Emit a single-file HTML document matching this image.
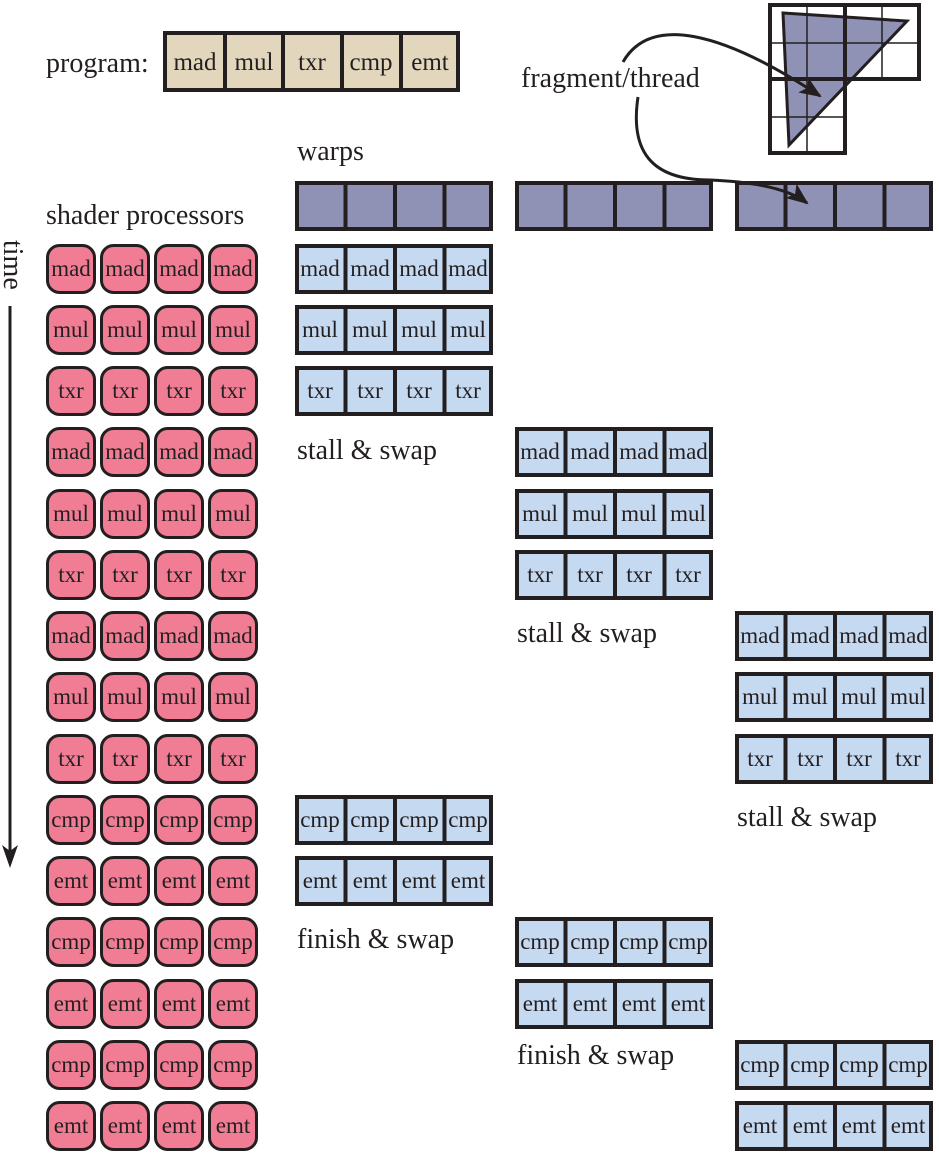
<!DOCTYPE html>
<html><head><meta charset="utf-8"><style>
html,body{margin:0;padding:0;background:#fff}
svg{display:block;font-family:"Liberation Serif","DejaVu Serif",serif}
svg text{font-family:"Liberation Serif","DejaVu Serif",serif;fill:#231f20}
.c{font-size:23px;text-anchor:middle}
.l{font-size:28px}
.p{fill:#f07d94;stroke:#231f20;stroke-width:3}
.b{fill:#c5d9f1;stroke:#231f20;stroke-width:4}
.w{fill:#8f91b5;stroke:#231f20;stroke-width:4}
.d{stroke:#231f20;stroke-width:4}
</style></head><body>
<svg width="939" height="1155" viewBox="0 0 939 1155" xmlns="http://www.w3.org/2000/svg" font-family="Liberation Serif, serif">
<defs>
<g id="pr"><rect class="p" x="47.5" y="1.5" width="47" height="47" rx="12"/><rect class="p" x="101.5" y="1.5" width="47" height="47" rx="12"/><rect class="p" x="155.5" y="1.5" width="47" height="47" rx="12"/><rect class="p" x="209.5" y="1.5" width="47" height="47" rx="12"/></g>
<g id="br"><rect class="b" x="2" y="2" width="194" height="46"/><line class="d" x1="50.5" y1="2" x2="50.5" y2="48"/><line class="d" x1="100" y1="2" x2="100" y2="48"/><line class="d" x1="149.5" y1="2" x2="149.5" y2="48"/></g>
<g id="wr"><rect class="w" x="2" y="2" width="194" height="46"/><line class="d" x1="50.5" y1="2" x2="50.5" y2="48"/><line class="d" x1="100" y1="2" x2="100" y2="48"/><line class="d" x1="149.5" y1="2" x2="149.5" y2="48"/></g>
<marker id="ah" markerWidth="22" markerHeight="18" refX="20" refY="9" orient="auto" markerUnits="userSpaceOnUse" viewBox="0 0 22 18"><path d="M0,0 L22,9 L0,18 L5,9 Z" fill="#231f20"/></marker>
</defs>

<text class="l" x="46" y="72">program:</text>
<rect x="165" y="33" width="293" height="57" fill="#e2d7bd" stroke="#231f20" stroke-width="4"/>
<line class="d" x1="225" y1="33" x2="225" y2="90"/><line class="d" x1="283" y1="33" x2="283" y2="90"/><line class="d" x1="342" y1="33" x2="342" y2="90"/><line class="d" x1="401" y1="33" x2="401" y2="90"/>
<g class="c" style="font-size:25px"><text x="195" y="70">mad</text><text x="254" y="70">mul</text><text x="312" y="70">txr</text><text x="371" y="70">cmp</text><text x="430" y="70">emt</text></g>

<rect x="770" y="5" width="149" height="74" fill="#fff"/><rect x="770" y="79" width="75" height="74" fill="#fff"/>
<polygon points="783,13 907,21 789,145" fill="#8f91b5" stroke="#231f20" stroke-width="3"/>
<g stroke="#231f20" stroke-width="1.5" fill="none">
<line x1="807" y1="5" x2="807" y2="153"/><line x1="882" y1="5" x2="882" y2="79"/>
<line x1="770" y1="43" x2="919" y2="43"/><line x1="770" y1="117" x2="845" y2="117"/>
</g>
<g stroke="#231f20" stroke-width="4" fill="none">
<path d="M770,5 H919 V79 H845 V153 H770 Z"/>
<line x1="845" y1="5" x2="845" y2="79"/><line x1="770" y1="79" x2="845" y2="79"/>
</g>
<text class="l" x="521" y="87">fragment/thread</text>
<path d="M623,62 C650,15 720,30 820,96" fill="none" stroke="#231f20" stroke-width="3" marker-end="url(#ah)"/>

<text class="l" x="297" y="160">warps</text>
<text class="l" x="46" y="224">shader processors</text>
<use href="#wr" x="295" y="181"/><use href="#wr" x="515" y="181"/><use href="#wr" x="735" y="181"/>
<path d="M638,97 C630,150 650,180 710,180 C760,182 790,190 807,203" fill="none" stroke="#231f20" stroke-width="3" marker-end="url(#ah)"/>

<text class="l" transform="translate(4,240) rotate(90)" x="0" y="0">time</text>
<line x1="10" y1="306" x2="10" y2="855" stroke="#231f20" stroke-width="3"/>
<path d="M2,845 L10,868 L18,845 L10,851 Z" fill="#231f20"/>

<g class="c">
<use href="#pr" y="244"/><text x="71" y="276">mad</text><text x="125" y="276">mad</text><text x="179" y="276">mad</text><text x="233" y="276">mad</text>
<use href="#pr" y="305"/><text x="71" y="337">mul</text><text x="125" y="337">mul</text><text x="179" y="337">mul</text><text x="233" y="337">mul</text>
<use href="#pr" y="366"/><text x="71" y="398">txr</text><text x="125" y="398">txr</text><text x="179" y="398">txr</text><text x="233" y="398">txr</text>
<use href="#pr" y="427"/><text x="71" y="459">mad</text><text x="125" y="459">mad</text><text x="179" y="459">mad</text><text x="233" y="459">mad</text>
<use href="#pr" y="489"/><text x="71" y="521">mul</text><text x="125" y="521">mul</text><text x="179" y="521">mul</text><text x="233" y="521">mul</text>
<use href="#pr" y="550"/><text x="71" y="582">txr</text><text x="125" y="582">txr</text><text x="179" y="582">txr</text><text x="233" y="582">txr</text>
<use href="#pr" y="611"/><text x="71" y="643">mad</text><text x="125" y="643">mad</text><text x="179" y="643">mad</text><text x="233" y="643">mad</text>
<use href="#pr" y="672"/><text x="71" y="704">mul</text><text x="125" y="704">mul</text><text x="179" y="704">mul</text><text x="233" y="704">mul</text>
<use href="#pr" y="734"/><text x="71" y="766">txr</text><text x="125" y="766">txr</text><text x="179" y="766">txr</text><text x="233" y="766">txr</text>
<use href="#pr" y="795"/><text x="71" y="827">cmp</text><text x="125" y="827">cmp</text><text x="179" y="827">cmp</text><text x="233" y="827">cmp</text>
<use href="#pr" y="856"/><text x="71" y="888">emt</text><text x="125" y="888">emt</text><text x="179" y="888">emt</text><text x="233" y="888">emt</text>
<use href="#pr" y="917"/><text x="71" y="949">cmp</text><text x="125" y="949">cmp</text><text x="179" y="949">cmp</text><text x="233" y="949">cmp</text>
<use href="#pr" y="979"/><text x="71" y="1011">emt</text><text x="125" y="1011">emt</text><text x="179" y="1011">emt</text><text x="233" y="1011">emt</text>
<use href="#pr" y="1040"/><text x="71" y="1072">cmp</text><text x="125" y="1072">cmp</text><text x="179" y="1072">cmp</text><text x="233" y="1072">cmp</text>
<use href="#pr" y="1101"/><text x="71" y="1133">emt</text><text x="125" y="1133">emt</text><text x="179" y="1133">emt</text><text x="233" y="1133">emt</text>

<use href="#br" x="295" y="244"/><text x="320" y="276">mad</text><text x="370" y="276">mad</text><text x="419" y="276">mad</text><text x="468" y="276">mad</text>
<use href="#br" x="295" y="305"/><text x="320" y="337">mul</text><text x="370" y="337">mul</text><text x="419" y="337">mul</text><text x="468" y="337">mul</text>
<use href="#br" x="295" y="366"/><text x="320" y="398">txr</text><text x="370" y="398">txr</text><text x="419" y="398">txr</text><text x="468" y="398">txr</text>
<use href="#br" x="295" y="795"/><text x="320" y="827">cmp</text><text x="370" y="827">cmp</text><text x="419" y="827">cmp</text><text x="468" y="827">cmp</text>
<use href="#br" x="295" y="856"/><text x="320" y="888">emt</text><text x="370" y="888">emt</text><text x="419" y="888">emt</text><text x="468" y="888">emt</text>

<use href="#br" x="515" y="427"/><text x="540" y="459">mad</text><text x="590" y="459">mad</text><text x="639" y="459">mad</text><text x="688" y="459">mad</text>
<use href="#br" x="515" y="489"/><text x="540" y="521">mul</text><text x="590" y="521">mul</text><text x="639" y="521">mul</text><text x="688" y="521">mul</text>
<use href="#br" x="515" y="550"/><text x="540" y="582">txr</text><text x="590" y="582">txr</text><text x="639" y="582">txr</text><text x="688" y="582">txr</text>
<use href="#br" x="515" y="917"/><text x="540" y="949">cmp</text><text x="590" y="949">cmp</text><text x="639" y="949">cmp</text><text x="688" y="949">cmp</text>
<use href="#br" x="515" y="979"/><text x="540" y="1011">emt</text><text x="590" y="1011">emt</text><text x="639" y="1011">emt</text><text x="688" y="1011">emt</text>

<use href="#br" x="735" y="611"/><text x="760" y="643">mad</text><text x="810" y="643">mad</text><text x="859" y="643">mad</text><text x="908" y="643">mad</text>
<use href="#br" x="735" y="672"/><text x="760" y="704">mul</text><text x="810" y="704">mul</text><text x="859" y="704">mul</text><text x="908" y="704">mul</text>
<use href="#br" x="735" y="734"/><text x="760" y="766">txr</text><text x="810" y="766">txr</text><text x="859" y="766">txr</text><text x="908" y="766">txr</text>
<use href="#br" x="735" y="1040"/><text x="760" y="1072">cmp</text><text x="810" y="1072">cmp</text><text x="859" y="1072">cmp</text><text x="908" y="1072">cmp</text>
<use href="#br" x="735" y="1101"/><text x="760" y="1133">emt</text><text x="810" y="1133">emt</text><text x="859" y="1133">emt</text><text x="908" y="1133">emt</text>
</g>

<text class="l" x="297" y="459">stall &amp; swap</text>
<text class="l" x="517" y="642">stall &amp; swap</text>
<text class="l" x="737" y="826">stall &amp; swap</text>
<text class="l" x="297" y="948">finish &amp; swap</text>
<text class="l" x="517" y="1064">finish &amp; swap</text>
</svg>
</body></html>
